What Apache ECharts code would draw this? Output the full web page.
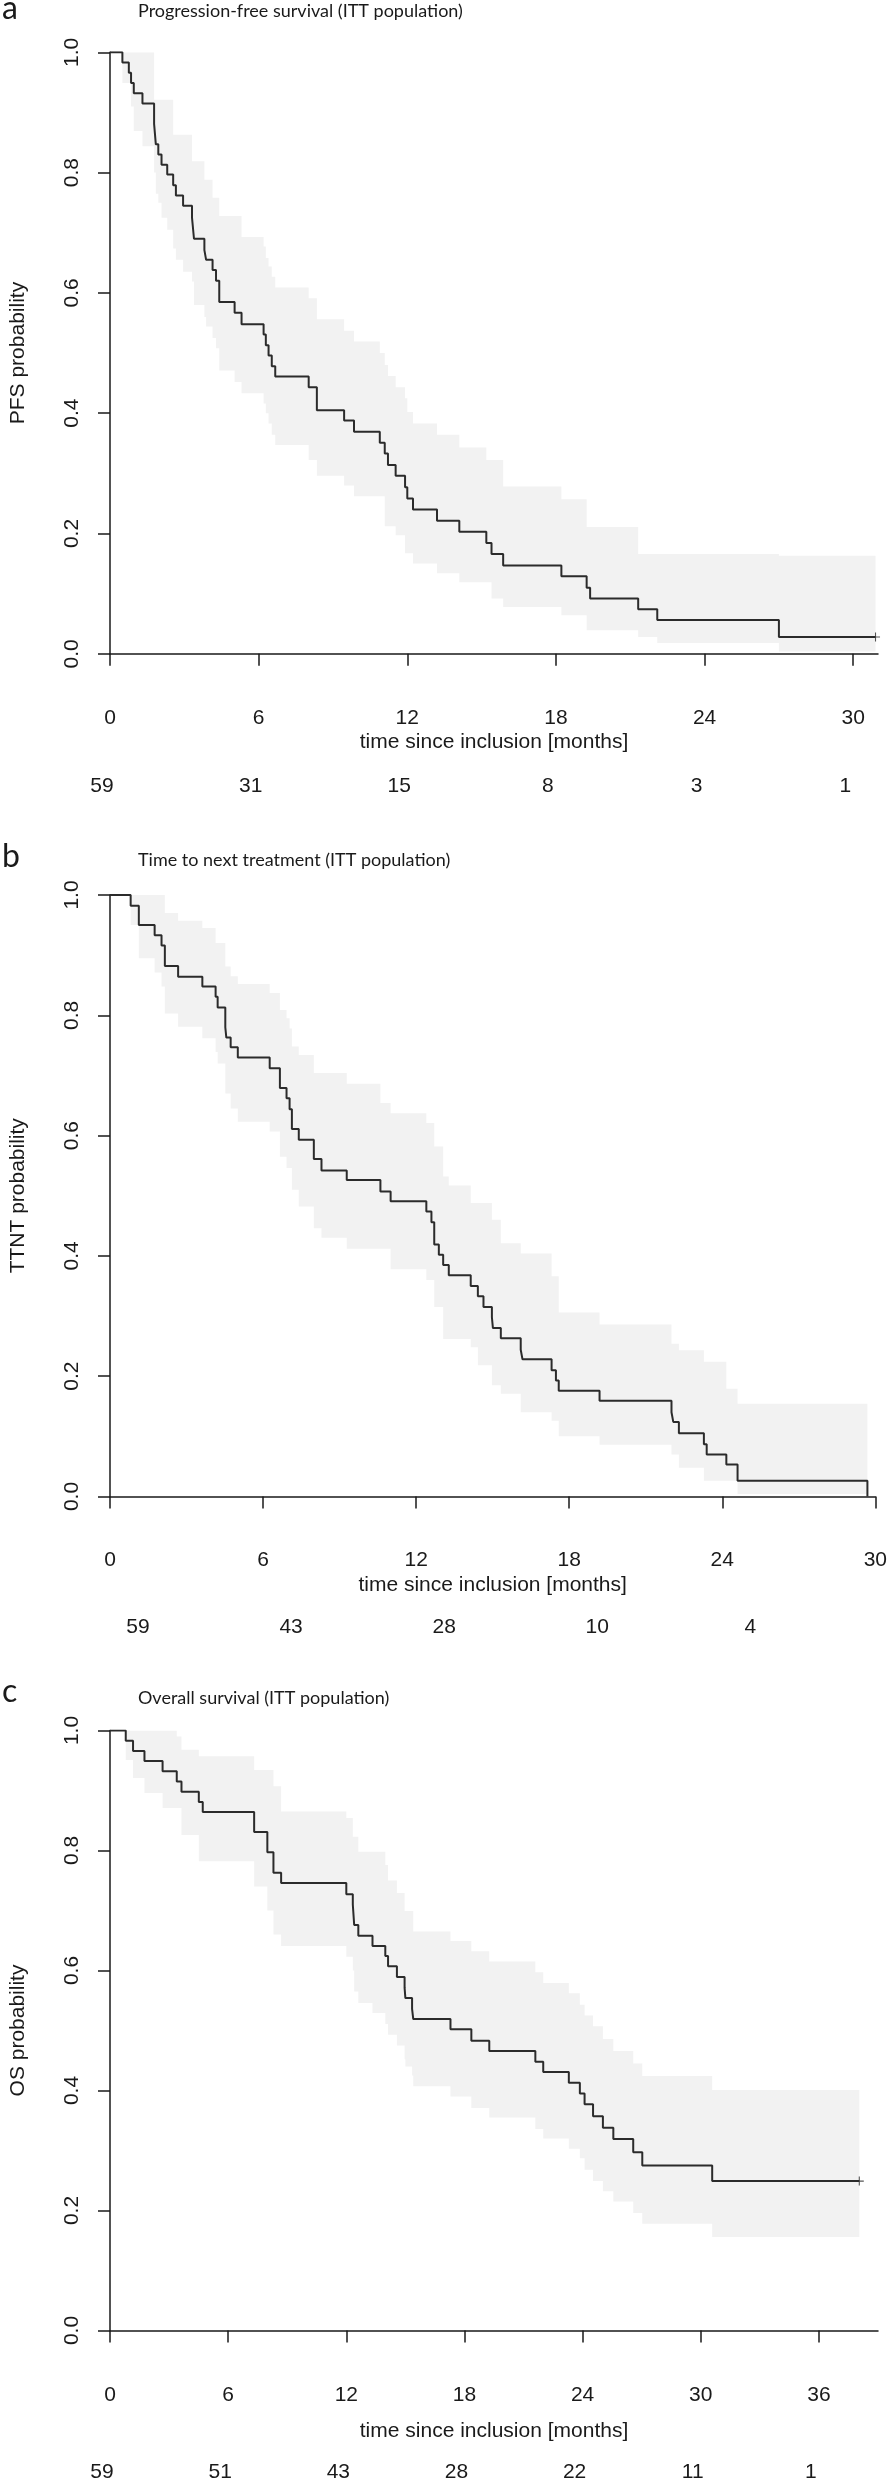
<!DOCTYPE html>
<html>
<head>
<meta charset="utf-8">
<script src="https://cdn.jsdelivr.net/npm/echarts@6/dist/echarts.min.js"></script>
<style>
  html, body { margin: 0; padding: 0; background: #fff; }
  #chart { width: 890px; height: 2483px; }
</style>
</head>
<body>
<div id="chart"></div>
<script>
// ---- data: [months, probability] ----
// a) progression-free survival
const pfsCurve = [[0,1],[0.50,0.983],[0.76,0.966],[0.85,0.949],[0.96,0.932],[1.31,0.915],[1.78,0.881],[1.85,0.847],
  [1.95,0.830],[2.08,0.813],[2.31,0.797],[2.55,0.779],[2.66,0.762],[2.95,0.745],[3.31,0.725],[3.39,0.690],[3.81,0.671],
  [3.88,0.655],[4.14,0.638],[4.28,0.620],[4.41,0.585],[5.03,0.567],[5.31,0.548],[6.20,0.531],[6.29,0.513],[6.40,0.496],
  [6.53,0.478],[6.67,0.461],[8.02,0.443],[8.35,0.405],[9.45,0.388],[9.85,0.369],[10.89,0.351],[11.09,0.333],[11.22,0.314],
  [11.53,0.296],[11.91,0.277],[12.00,0.258],[12.23,0.240],[13.20,0.221],[14.10,0.203],[15.19,0.184],[15.40,0.166],
  [15.87,0.147],[18.22,0.129],[19.24,0.110],[19.38,0.092],[21.32,0.074],[22.09,0.056],[27.00,0.028]];
const pfsUpper = [[0.50,1],[1.78,0.921],[2.55,0.863],[3.31,0.819],[3.81,0.788],[4.14,0.758],[4.41,0.728],[5.31,0.693],
  [6.20,0.677],[6.29,0.658],[6.40,0.644],[6.53,0.627],[6.67,0.609],[8.02,0.591],[8.35,0.556],[9.45,0.537],[9.85,0.519],
  [10.89,0.500],[11.09,0.480],[11.22,0.462],[11.53,0.443],[11.91,0.425],[12.00,0.402],[12.23,0.383],[13.20,0.364],
  [14.10,0.343],[15.19,0.322],[15.87,0.278],[18.22,0.257],[19.24,0.211],[21.32,0.166],[27.00,0.163]];
const pfsLower = [[0.50,0.949],[0.85,0.910],[0.96,0.869],[1.31,0.844],[1.78,0.800],[1.85,0.765],[1.95,0.750],[2.08,0.725],
  [2.31,0.705],[2.55,0.674],[2.66,0.655],[2.95,0.635],[3.31,0.619],[3.39,0.580],[3.81,0.560],[3.88,0.544],[4.14,0.525],
  [4.28,0.508],[4.41,0.471],[5.03,0.452],[5.31,0.433],[6.20,0.416],[6.29,0.400],[6.40,0.383],[6.53,0.364],[6.67,0.347],
  [8.02,0.322],[8.35,0.296],[9.45,0.280],[9.85,0.262],[11.09,0.212],[11.53,0.197],[11.91,0.167],[12.23,0.150],
  [13.20,0.134],[14.10,0.119],[15.40,0.092],[15.87,0.078],[18.22,0.064],[19.24,0.039],[21.32,0.028],[22.09,0.018],[27.00,0.004]];
const pfsEnd = 30.9;
const pfsRisk = [59, 31, 15, 8, 3, 1];

// b) time to next treatment
const ttntCurve = [[0,1],[0.81,0.982],[1.13,0.950],[1.75,0.933],[2.02,0.916],[2.15,0.882],[2.67,0.864],[3.62,0.848],
  [4.14,0.831],[4.22,0.813],[4.52,0.780],[4.56,0.763],[4.73,0.747],[5.01,0.730],[6.26,0.712],[6.66,0.679],[6.92,0.662],
  [7.04,0.644],[7.13,0.611],[7.40,0.593],[7.99,0.561],[8.29,0.542],[9.28,0.526],[10.60,0.507],[11.00,0.491],[12.40,0.474],
  [12.60,0.456],[12.71,0.419],[12.89,0.402],[13.06,0.385],[13.28,0.368],[14.14,0.350],[14.42,0.333],[14.64,0.315],
  [14.97,0.298],[15.01,0.280],[15.32,0.263],[16.10,0.244],[16.17,0.228],[17.31,0.210],[17.48,0.193],[17.59,0.176],
  [19.19,0.159],[22.01,0.140],[22.08,0.124],[22.30,0.105],[23.28,0.087],[23.39,0.070],[24.16,0.053],[24.60,0.026],[29.69,0]];
const ttntUpper = [[0.81,1],[2.15,0.970],[2.67,0.957],[3.62,0.945],[4.14,0.920],[4.52,0.881],[4.73,0.865],[5.01,0.852],
  [6.26,0.837],[6.66,0.809],[6.92,0.795],[7.04,0.778],[7.13,0.748],[7.40,0.734],[7.99,0.704],[9.28,0.686],[10.60,0.654],
  [11.00,0.637],[12.40,0.621],[12.71,0.582],[13.06,0.532],[13.28,0.517],[14.14,0.488],[14.97,0.460],[15.32,0.421],
  [16.10,0.404],[17.31,0.366],[17.59,0.306],[19.19,0.286],[22.01,0.254],[22.30,0.243],[23.28,0.224],[24.16,0.179],[24.60,0.154]];
const ttntLower = [[0.81,0.950],[1.13,0.895],[1.75,0.871],[2.02,0.848],[2.15,0.803],[2.67,0.781],[3.62,0.762],[4.14,0.739],
  [4.22,0.720],[4.52,0.670],[4.73,0.645],[5.01,0.623],[6.26,0.607],[6.66,0.565],[6.92,0.546],[7.13,0.510],[7.40,0.482],
  [7.99,0.446],[8.29,0.430],[9.28,0.412],[11.00,0.378],[12.40,0.360],[12.71,0.315],[13.06,0.262],[14.14,0.248],
  [14.42,0.218],[14.97,0.185],[15.32,0.171],[16.10,0.140],[17.31,0.126],[17.59,0.100],[19.19,0.086],[22.01,0.070],
  [22.30,0.048],[23.28,0.026],[24.60,0.004]];
const ttntEnd = 29.69;
const ttntRisk = [59, 43, 28, 10, 4];

// c) overall survival
const osCurve = [[0,1],[0.80,0.983],[1.17,0.966],[1.75,0.949],[2.67,0.932],[3.39,0.915],[3.63,0.898],[4.51,0.881],
  [4.71,0.864],[7.32,0.831],[7.99,0.797],[8.30,0.763],[8.69,0.746],[12.00,0.727],[12.33,0.710],[12.40,0.676],[12.61,0.658],
  [13.33,0.641],[13.98,0.624],[14.12,0.607],[14.57,0.589],[14.96,0.571],[15.00,0.554],[15.34,0.536],[15.40,0.519],
  [17.29,0.502],[18.35,0.483],[19.26,0.466],[21.60,0.448],[22.00,0.431],[23.30,0.413],[23.86,0.395],[24.10,0.377],
  [24.53,0.357],[25.03,0.338],[25.56,0.319],[26.57,0.297],[27.03,0.275],[30.58,0.249]];
const osUpper = [[0.80,1],[3.39,0.990],[3.63,0.968],[4.51,0.957],[7.32,0.934],[8.30,0.907],[8.69,0.865],[12.00,0.854],
  [12.33,0.823],[12.61,0.798],[13.98,0.776],[14.12,0.750],[14.57,0.729],[14.96,0.699],[15.40,0.665],[17.29,0.649],
  [18.35,0.632],[19.26,0.615],[21.60,0.597],[22.00,0.579],[23.30,0.562],[23.86,0.543],[24.10,0.525],[24.53,0.507],
  [25.03,0.486],[25.56,0.466],[26.57,0.445],[27.03,0.424],[30.58,0.401]];
const osLower = [[0.80,0.951],[1.17,0.921],[1.75,0.896],[2.67,0.871],[3.63,0.826],[4.51,0.782],[7.32,0.740],[7.99,0.700],
  [8.30,0.660],[8.69,0.641],[12.00,0.623],[12.33,0.600],[12.40,0.565],[12.61,0.546],[13.33,0.529],[13.98,0.511],
  [14.12,0.493],[14.57,0.475],[14.96,0.452],[15.00,0.440],[15.34,0.425],[15.40,0.407],[17.29,0.390],[18.35,0.371],
  [19.26,0.355],[21.60,0.336],[22.00,0.320],[23.30,0.303],[23.86,0.287],[24.10,0.268],[24.53,0.249],[25.03,0.232],
  [25.56,0.215],[26.57,0.196],[27.03,0.178],[30.58,0.156]];
const osEnd = 38.05;
const osRisk = [59, 51, 43, 28, 22, 11, 1];

const monthTicks = [0, 6, 12, 18, 24, 30, 36];

// ---- layout per panel ----
const panels = [
  { letter: 'a', title: 'Progression-free survival (ITT population)', yName: 'PFS probability',
    curve: pfsCurve, upper: pfsUpper, lower: pfsLower, end: pfsEnd, censored: true, risk: pfsRisk,
    xMax: 31, top: 52.3, height: 601.5, axisOff: 24, nameGap: 54, riskOff: 121.5, riskShift: -8,
    letterTop: -7, titleTop: 2.5 },
  { letter: 'b', title: 'Time to next treatment (ITT population)', yName: 'TTNT probability',
    curve: ttntCurve, upper: ttntUpper, lower: ttntLower, end: ttntEnd, censored: false, risk: ttntRisk,
    xMax: 30, top: 895, height: 601.5, axisOff: 23, nameGap: 55, riskOff: 120, riskShift: 28,
    letterTop: 841, titleTop: 851 },
  { letter: 'c', title: 'Overall survival (ITT population)', yName: 'OS probability',
    curve: osCurve, upper: osUpper, lower: osLower, end: osEnd, censored: true, risk: osRisk,
    xMax: 39, top: 1730.5, height: 601, axisOff: 24.5, nameGap: 66, riskOff: 131.5, riskShift: -8,
    letterTop: 1676, titleTop: 1689 }
];

const numFont = 'Liberation Sans, Arial, sans-serif';
const titleFont = 'Lato, Open Sans, sans-serif';
const ink = '#1a1a1a';

const chart = echarts.init(document.getElementById('chart'), null, { renderer: 'canvas' });

const grid = [], xAxis = [], yAxis = [], series = [], title = [];

panels.forEach(function (p, g) {
  const ticks = monthTicks.filter(function (v) { return v <= p.xMax; });
  const riskTicks = ticks.slice(0, p.risk.length);

  title.push({ text: p.letter, left: 2, top: p.letterTop, padding: 0,
    textStyle: { fontFamily: titleFont, fontSize: 32, fontWeight: 'normal', color: ink } });
  title.push({ text: p.title, left: 138, top: p.titleTop, padding: 0,
    textStyle: { fontFamily: titleFont, fontSize: 18, fontWeight: 'normal', color: ink } });

  grid.push({ left: 100, right: 12, top: p.top, height: p.height, containLabel: false });

  // time axis
  xAxis.push({
    gridIndex: g, type: 'value', min: 0, max: p.xMax, position: 'bottom', offset: p.axisOff,
    name: 'time since inclusion [months]', nameLocation: 'middle', nameGap: p.nameGap,
    nameTextStyle: { fontFamily: numFont, fontSize: 21, color: ink },
    splitLine: { show: false },
    axisLine: { show: true, lineStyle: { color: ink, width: 1.5 } },
    axisTick: { show: true, length: 12, lineStyle: { color: ink, width: 1.5 }, customValues: ticks },
    axisLabel: { margin: 30, fontFamily: numFont, fontSize: 21, color: ink, customValues: ticks }
  });
  // numbers at risk, shown as a label-only axis
  xAxis.push({
    gridIndex: g, type: 'value', min: 0, max: p.xMax, position: 'bottom', offset: p.riskOff,
    splitLine: { show: false }, axisLine: { show: false }, axisTick: { show: false },
    axisLabel: {
      margin: 0, fontFamily: numFont, fontSize: 21, color: ink, customValues: riskTicks,
      padding: p.riskShift > 0 ? [0, 0, 0, 2 * p.riskShift] : [0, -2 * p.riskShift, 0, 0],
      formatter: function (v) { return String(p.risk[riskTicks.indexOf(v)]); }
    }
  });

  yAxis.push({
    gridIndex: g, type: 'value', min: 0, max: 1, interval: 0.2,
    name: p.yName, nameLocation: 'middle', nameGap: 81,
    nameTextStyle: { fontFamily: numFont, fontSize: 21, color: ink },
    splitLine: { show: false },
    axisLine: { show: true, lineStyle: { color: ink, width: 1.5 } },
    axisTick: { show: true, length: 12, lineStyle: { color: ink, width: 1.5 } },
    axisLabel: { rotate: 90, margin: 27, fontFamily: numFont, fontSize: 21, color: ink,
      formatter: function (v) { return v.toFixed(1); } }
  });

  // confidence band, drawn as one step polygon through the axes
  series.push({
    type: 'custom', xAxisIndex: 2 * g, yAxisIndex: g, silent: true, z: 1, clip: true,
    data: [0],
    renderItem: function (params, api) {
      const pts = [];
      p.upper.forEach(function (d, i) {
        const next = i + 1 < p.upper.length ? p.upper[i + 1][0] : p.end;
        pts.push(api.coord([d[0], d[1]]), api.coord([next, d[1]]));
      });
      for (let i = p.lower.length - 1; i >= 0; i--) {
        const next = i + 1 < p.lower.length ? p.lower[i + 1][0] : p.end;
        pts.push(api.coord([next, p.lower[i][1]]), api.coord([p.lower[i][0], p.lower[i][1]]));
      }
      return { type: 'polygon', shape: { points: pts }, style: { fill: '#f2f2f2' } };
    }
  });

  // Kaplan-Meier step curve
  const last = p.curve[p.curve.length - 1];
  const line = p.curve.slice();
  if (last[0] < p.end) line.push([p.end, last[1]]);
  series.push({
    type: 'line', xAxisIndex: 2 * g, yAxisIndex: g, step: 'end', data: line, z: 3,
    showSymbol: false, silent: true, animation: false,
    lineStyle: { color: '#2b2b2b', width: 2 }
  });

  if (p.censored) {
    series.push({
      type: 'scatter', xAxisIndex: 2 * g, yAxisIndex: g, z: 4, silent: true,
      data: [[p.end, last[1]]],
      symbol: 'path://M0,4.4H10V5.6H0Z M4.4,0H5.6V10H4.4Z', symbolSize: 9,
      itemStyle: { color: '#2b2b2b' }
    });
  }
});

chart.setOption({
  animation: false,
  backgroundColor: '#fff',
  title: title,
  grid: grid,
  xAxis: xAxis,
  yAxis: yAxis,
  series: series
});
window.onresize = chart.resize;
</script>
</body>
</html>
